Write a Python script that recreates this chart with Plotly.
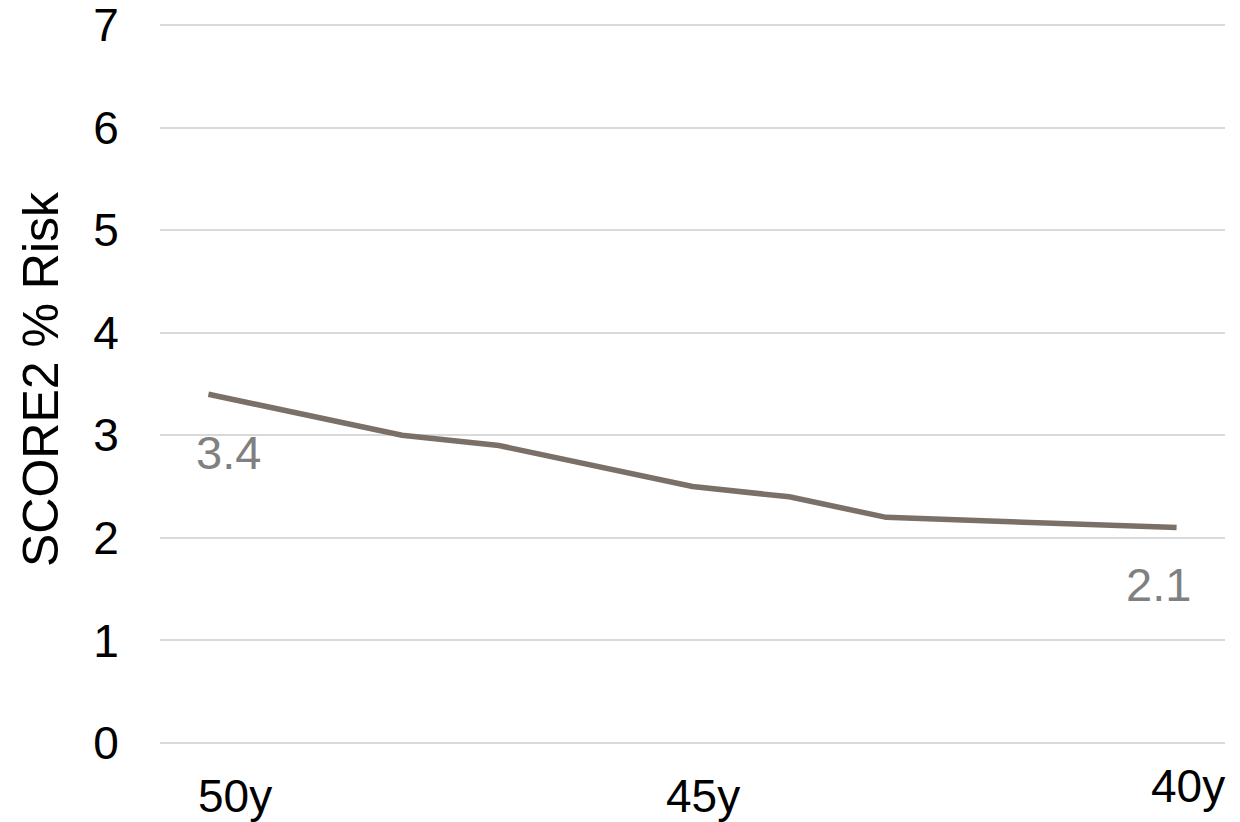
import plotly.graph_objects as go

# Age axis (years) and SCORE2 risk values
ages = [50, 48, 47, 45, 44, 43, 40]
risk = [3.4, 3.0, 2.9, 2.5, 2.4, 2.2, 2.1]

# Axis labels
x_tick_ages = [50, 45, 40]
x_tick_text = ["50y", "45y", "40y"]
y_ticks = [0, 1, 2, 3, 4, 5, 6, 7]

FONT = "Liberation Sans, Arial, sans-serif"
LINE_COLOR = "#7a7067"
LABEL_GRAY = "#808080"

fig = go.Figure()
fig.add_trace(go.Scatter(
    x=ages, y=risk, mode="lines",
    line=dict(color=LINE_COLOR, width=5.5),
    hoverinfo="skip", showlegend=False,
))

annotations = []
# Value labels on the first and last points
for idx, (dx, dy) in zip([0, -1], [(20, -58), (-18, -57)]):
    annotations.append(dict(
        x=ages[idx], y=risk[idx], xref="x", yref="y",
        text=f"{risk[idx]:.1f}", showarrow=False,
        xshift=dx, yshift=dy, xanchor="center", yanchor="middle",
        font=dict(family=FONT, size=47, color=LABEL_GRAY),
    ))

# Age labels under the axis
for a, t, dx, py in zip(x_tick_ages, x_tick_text, [27, 10, 11], [-0.0717, -0.0717, -0.0578]):
    annotations.append(dict(
        x=a, y=py, xref="x", yref="paper", text=t, showarrow=False,
        xshift=dx, xanchor="center", yanchor="middle",
        font=dict(family=FONT, size=46, color="#000000"),
    ))

# Vertical axis title
annotations.append(dict(
    x=-0.1117, y=0.507, xref="paper", yref="paper",
    text="SCORE2 % Risk", textangle=-90, showarrow=False,
    xanchor="center", yanchor="middle",
    font=dict(family=FONT, size=50, color="#000000"),
))

fig.update_layout(
    width=1240, height=822,
    margin=dict(l=160, r=15, t=24, b=78),
    paper_bgcolor="white", plot_bgcolor="white",
    annotations=annotations,
    xaxis=dict(
        range=[50.5, 39.5], showticklabels=False, showgrid=False,
        zeroline=False, showline=False, ticks="",
    ),
    yaxis=dict(
        range=[-0.01, 7.01], tickvals=y_ticks, showgrid=True,
        gridcolor="#d9d9d9", gridwidth=1.5, zeroline=False,
        showline=False, ticks="outside", ticklen=31, tickcolor="white",
        ticklabeloverflow="allow", automargin=False,
        tickfont=dict(family=FONT, size=46, color="#000000"),
    ),
)

fig.write_html("out.html")
